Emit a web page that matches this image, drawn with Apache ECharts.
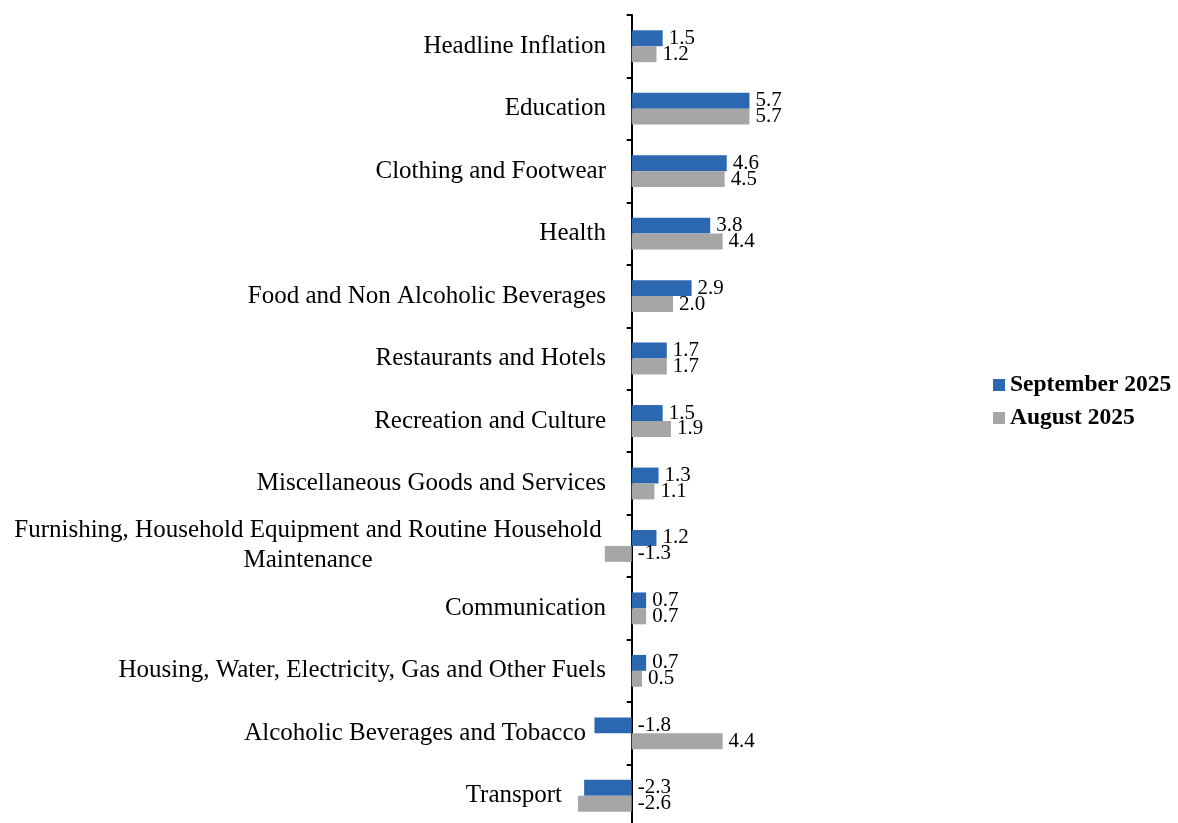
<!DOCTYPE html>
<html><head><meta charset="utf-8">
<script src="https://cdn.jsdelivr.net/npm/echarts@6/dist/echarts.min.js"></script>
<style>html,body{margin:0;padding:0;background:#fff}#c{width:1178px;height:823px}</style>
</head><body><div id="c"></div>
<script>
const categories = ["Headline Inflation","Education","Clothing and Footwear","Health","Food and Non Alcoholic Beverages","Restaurants and Hotels","Recreation and Culture","Miscellaneous Goods and Services","Furnishing, Household Equipment and Routine Household\nMaintenance","Communication","Housing, Water, Electricity, Gas and Other Fuels","Alcoholic Beverages and Tobacco","Transport"];
const september = [1.5,5.7,4.6,3.8,2.9,1.7,1.5,1.3,1.2,0.7,0.7,-1.8,-2.3];
const august = [1.2,5.7,4.5,4.4,2.0,1.7,1.9,1.1,-1.3,0.7,0.5,4.4,-2.6];
const seriesNames = ["September 2025","August 2025"];
const colors = ["#2C68B2","#A6A6A6"];

const font = "'Liberation Serif','Times New Roman',serif";
const chart = echarts.init(document.getElementById('c'));
const labelCfg = {show:true,position:'right',formatter:p=>p.value.toFixed(1),fontFamily:font,fontSize:21,color:'#000',distance:6};
chart.setOption({
  animation:false,
  color:colors,
  grid:{left:549,width:248,top:15,height:812,containLabel:false,outerBoundsMode:'none'},
  legend:{orient:'vertical',left:988,top:368,itemWidth:12,itemHeight:12,itemGap:9,
    icon:'rect',
    data:seriesNames,
    textStyle:{fontFamily:font,fontSize:23.5,fontWeight:'bold',color:'#000',padding:[0,0,0,0]}},
  xAxis:{type:'value',min:-4,max:8,show:false},
  yAxis:{type:'category',data:categories,inverse:true,
    axisLine:{onZero:true,lineStyle:{color:'#000',width:2}},
    axisTick:{show:true,length:5,inside:false,lineStyle:{color:'#000',width:2}},
    axisLabel:{fontFamily:font,fontSize:25,color:'#000',margin:-57,align:'right',
      formatter:function(v,i){
        if(v.indexOf('\n')>=0){const p=v.split('\n');return '{c|'+p[0]+'}\n{c|'+p[1]+'}';}
        if(v==='Alcoholic Beverages and Tobacco') return '{a|'+v+'}';
        if(v==='Transport') return '{t|'+v+'}';
        return v;},
      rich:{
        c:{fontFamily:font,fontSize:25,color:'#000',width:596,align:'center',lineHeight:30},
        a:{fontFamily:font,fontSize:25,color:'#000',padding:[0,20,0,0]},
        t:{fontFamily:font,fontSize:25,color:'#000',padding:[0,44,0,0]}
      }
    },
    splitLine:{show:false}},
  series:[
    {name:seriesNames[0],type:'bar',data:september,barGap:'0%',barCategoryGap:'49%',label:labelCfg},
    {name:seriesNames[1],type:'bar',data:august,barGap:'0%',barCategoryGap:'49%',label:labelCfg}
  ]
});
</script></body></html>
